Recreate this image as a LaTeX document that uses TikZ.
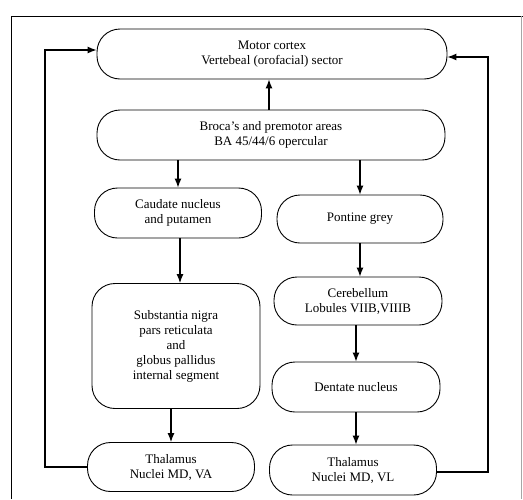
\documentclass[tikz,border=0pt]{standalone}
\usepackage{fontspec}
\setmainfont{Liberation Serif}
\usetikzlibrary{positioning, arrows.meta}

\tikzset{
  area/.style={draw, rounded corners=23pt, align=center, inner sep=2pt,
    font=\fontsize{13}{15}\selectfont},
  link/.style={-{Latex[length=9pt,width=7pt]}, line width=1.1pt},
}

\begin{document}
\begin{tikzpicture}[x=1pt, y=-1pt, line width=0.9pt]
   \useasboundingbox (0,0) rectangle (523,499);
   % frame of the figure
   \draw[line width=0.8pt] (11,499) -- (11,16) -- (523,16);
   \draw[line width=0.5pt, black!35] (521,16) -- (521,499);

   \node[area, minimum width=350pt, minimum height=50pt] (motor) at (272,54)
      {Motor cortex\\Vertebeal (orofacial) sector};
   \node[area, minimum width=348pt, minimum height=50pt] (broca) at (271,135)
      {Broca's and premotor areas\\BA 45/44/6 opercular};

   % basal ganglia side
   \node[area, minimum width=167pt, minimum height=50pt] (caudate) at (178,213)
      {Caudate nucleus\\and putamen};
   \node[area, minimum width=168pt, minimum height=125pt] (nigra) at (176,346)
      {Substantia nigra\\pars reticulata\\and\\globus pallidus\\internal segment};
   \node[area, minimum width=167pt, minimum height=49pt] (thalL) at (171,467)
      {Thalamus\\Nuclei MD, VA};

   % cerebellar side
   \node[area, minimum width=166pt, minimum height=48pt] (pontine) at (360,219)
      {Pontine grey};
   \node[area, minimum width=168pt, minimum height=48pt] (cereb) at (358,301)
      {Cerebellum\\Lobules VIIB,VIIIB};
   \node[area, minimum width=168pt, minimum height=50pt] (dentate) at (356,387)
      {Dentate nucleus};
   \node[area, minimum width=167pt, minimum height=50pt] (thalR) at (353,470)
      {Thalamus\\Nuclei MD, VL};

   \draw[link] (broca.north -| 269,0) -- (motor.south -| 269,0);
   \draw[link] (broca.south -| caudate) -- (caudate.north);
   \draw[link] (broca.south -| pontine) -- (pontine.north);
   \draw[link] (caudate.south -| 180,0) -- (nigra.north -| 180,0);
   \draw[link] (nigra.south -| thalL) -- (thalL.north);
   \draw[link] (pontine.south) -- (cereb.north -| pontine);
   \draw[link] (cereb.south -| dentate) -- (dentate.north);
   \draw[link] (dentate.south -| 356,0) -- (thalR.north -| 356,0);

   \coordinate (loopL) at (45,50);
   \coordinate (loopR) at (488,57);
   \draw[link] (thalL.west) -| (loopL) -- (motor.west |- loopL);
   \draw[link] ([yshift=-2pt]thalR.east) -| (loopR) -- (motor.east |- loopR);
\end{tikzpicture}
\end{document}
